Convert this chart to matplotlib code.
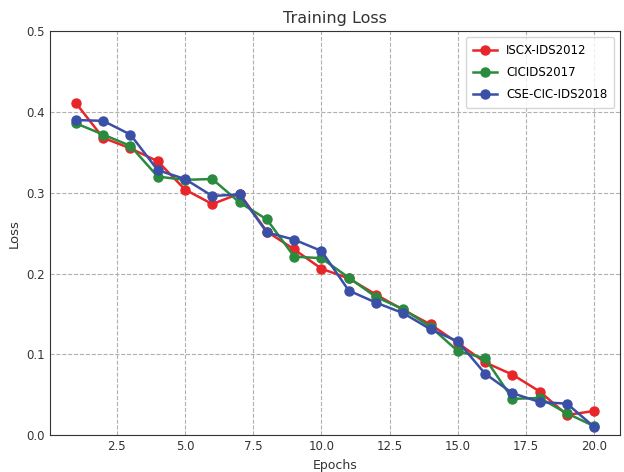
import matplotlib
matplotlib.use('Agg')
import matplotlib.pyplot as plt

# Epochs and loss per dataset
epochs = list(range(1, 21))
iscx_2012 = [0.411, 0.368, 0.355, 0.339, 0.304, 0.286, 0.299, 0.252, 0.230, 0.206,
             0.194, 0.174, 0.155, 0.137, 0.114, 0.090, 0.075, 0.054, 0.025, 0.030]
cicids_2017 = [0.386, 0.372, 0.358, 0.320, 0.316, 0.317, 0.288, 0.267, 0.221, 0.219,
               0.195, 0.171, 0.156, 0.134, 0.104, 0.095, 0.045, 0.046, 0.027, 0.011]
cse_cic_2018 = [0.390, 0.389, 0.372, 0.328, 0.317, 0.296, 0.298, 0.251, 0.242, 0.228,
                0.179, 0.164, 0.151, 0.131, 0.116, 0.076, 0.052, 0.041, 0.039, 0.010]

fig = plt.figure(figsize=(6.24, 4.72), dpi=100)
ax = fig.add_axes([0.080, 0.078, 0.914, 0.856])

ax.plot(epochs, iscx_2012, '-o', color='#e8262a', lw=1.8, ms=6.5, label='ISCX-IDS2012')
ax.plot(epochs, cicids_2017, '-o', color='#2a8a3e', lw=1.8, ms=6.5, label='CICIDS2017')
ax.plot(epochs, cse_cic_2018, '-o', color='#3a4fa6', lw=1.8, ms=6.5, label='CSE-CIC-IDS2018')

ax.set_ylim(0, 0.5)
ax.set_yticks([0.0, 0.1, 0.2, 0.3, 0.4, 0.5])
ax.grid(True, linestyle='--', color='#b0b0b0', linewidth=0.8)
ax.tick_params(length=0, labelsize=8.5, colors='#333333')
for s in ax.spines.values():
    s.set_color('#333333')

ax.set_title('Training Loss', fontsize=11.5, color='#333333')
ax.set_xlabel('Epochs', fontsize=9, color='#333333')
ax.set_ylabel('Loss', fontsize=9.5, color='#333333')
ax.legend(loc='upper right', fontsize=8.5, labelspacing=0.75, borderpad=0.6)

fig.savefig('out.png', dpi=100)
